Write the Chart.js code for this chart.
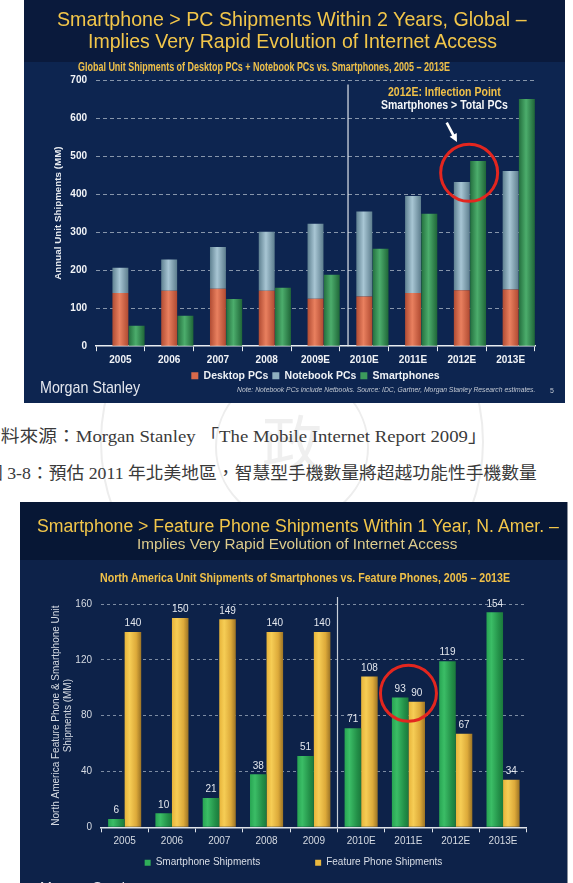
<!DOCTYPE html>
<html><head><meta charset="utf-8">
<title>Smartphone Shipments</title>
<script src="https://cdn.jsdelivr.net/npm/chart.js@4.4.1/dist/chart.umd.min.js"></script>
<style>
html,body{margin:0;padding:0;background:#fff;}
body{width:573px;height:883px;position:relative;overflow:hidden;font-family:"Liberation Sans",Arial,sans-serif;}
.box{position:absolute;}
.t{position:absolute;white-space:nowrap;line-height:1.15;}
.wm{position:absolute;border:2px solid #ededed;border-radius:50%;}
</style></head><body>
<!-- faint watermark -->
<div class="wm" style="left:100px;top:250px;width:380px;height:380px"></div>
<div class="wm" style="left:215px;top:370px;width:150px;height:150px"></div>
<div class="t" style="left:262px;top:405px;font-size:60px;color:#efefef;font-family:'Noto Sans CJK TC'">政</div>

<!-- top panel -->
<div class="box" style="left:24px;top:0;width:541px;height:403px;background:#0d2550"></div>
<div class="box" style="left:24px;top:0;width:541px;height:62px;background:#0a1a3c"></div>
<div class="box" style="left:24px;top:0;width:541px;height:403px"><canvas id="c1" width="541" height="403"></canvas></div>

<div class="t fit" data-x="57" data-w="470" data-y="19" style="font-size:21px;color:#f2c64a">Smartphone &gt; PC Shipments Within 2 Years, Global –</div>
<div class="t fit" data-x="88" data-w="409" data-y="41" style="font-size:21px;color:#f2c64a">Implies Very Rapid Evolution of Internet Access</div>
<div class="t fit" data-x="78" data-w="372" data-y="68" style="font-size:12px;font-weight:bold;color:#f0c048">Global Unit Shipments of Desktop PCs + Notebook PCs vs. Smartphones, 2005 – 2013E</div>
<div class="t fit" data-x="388" data-w="113" data-y="93" style="font-size:12px;font-weight:bold;color:#f0c048">2012E: Inflection Point</div>
<div class="t fit" data-x="381" data-w="127" data-y="106" style="font-size:12px;font-weight:bold;color:#f4f6f8">Smartphones &gt; Total PCs</div>
<div class="t fit" data-x="40" data-w="100" data-y="388" style="font-size:17px;color:#e4e7ee">Morgan Stanley</div>
<div class="t fit" data-x="237" data-w="298" data-y="390" style="font-size:7px;font-style:italic;color:#c3c9d3">Note: Notebook PCs include Netbooks. Source: IDC, Gartner, Morgan Stanley Research estimates.</div>
<div class="t fit" data-x="550" data-y="391" style="font-size:7px;color:#c3c9d3">5</div>

<!-- middle text -->
<div class="t fit" data-x="-18" data-w="505" data-y="437" style="font-size:17px;color:#3a3a3a;font-family:'Liberation Serif','Noto Sans CJK TC',serif">資料來源：Morgan Stanley 「The Mobile Internet Report 2009」</div>
<div class="t fit" data-x="-15" data-w="552" data-y="474" style="font-size:17px;color:#3a3a3a;font-family:'Liberation Serif','Noto Sans CJK TC',serif">圖 3-8：預估 2011 年北美地區，智慧型手機數量將超越功能性手機數量</div>

<!-- bottom panel -->
<div class="box" style="left:20px;top:502px;width:547px;height:381px;background:#0d2249;border-right:1px solid #8a909c"></div>
<div class="box" style="left:20px;top:502px;width:547px;height:58px;background:#071735"></div>
<div class="box" style="left:20px;top:502px;width:547px;height:381px"><canvas id="c2" width="547" height="381"></canvas></div>

<div class="t fit" data-x="37" data-w="522" data-y="526" style="font-size:18px;color:#f2c64a">Smartphone &gt; Feature Phone Shipments Within 1 Year, N. Amer. –</div>
<div class="t fit" data-x="137" data-w="320" data-y="543" style="font-size:15px;color:#dccb8c">Implies Very Rapid Evolution of Internet Access</div>
<div class="t fit" data-x="100" data-w="410" data-y="579" style="font-size:12px;font-weight:bold;color:#f0c048">North America Unit Shipments of Smartphones vs. Feature Phones, 2005 – 2013E</div>
<div class="t fit" data-x="40" data-w="100" data-y="889" style="font-size:17px;color:#e4e7ee">Morgan Stanley</div>

<script>
// ---------- data ----------
const years1 = ['2005','2006','2007','2008','2009E','2010E','2011E','2012E','2013E'];
const desktopPCs = [140,146,151,146,125,131,140,147,149];
const notebookPCs = [66,82,110,155,197,223,255,285,312];
const smartphones = [54,80,124,154,188,256,348,487,650];

const years2 = ['2005','2006','2007','2008','2009','2010E','2011E','2012E','2013E'];
const smartphoneShipments = [6,10,21,38,51,71,93,119,154];
const featurePhoneShipments = [140,150,149,140,140,108,90,67,34];

// ---------- text placement ----------
document.querySelectorAll('.fit').forEach(el=>{
  const w = el.offsetWidth, h = el.offsetHeight;
  el.style.left = el.dataset.x + 'px';
  el.style.top = (+el.dataset.y - h/2) + 'px';
  if (el.dataset.w) {
    el.style.transformOrigin = '0 50%';
    el.style.transform = 'scaleX(' + (+el.dataset.w / w) + ')';
  }
});

Chart.defaults.animation = false;
Chart.defaults.devicePixelRatio = 1;

const SANS = '"Liberation Sans",Arial,sans-serif';

// gradient shading of bars
const gradPlugin = {
  id: 'grad',
  beforeDatasetsDraw(chart) {
    const ctx = chart.ctx;
    chart.data.datasets.forEach((ds, i) => {
      if (!ds.stops) return;
      chart.getDatasetMeta(i).data.forEach(bar => {
        const x = bar.x, w = bar.width;
        const g = ctx.createLinearGradient(x - w/2, 0, x + w/2, 0);
        ds.stops.forEach(s => g.addColorStop(s[0], s[1]));
        bar.options = Object.assign({}, bar.options, {backgroundColor: g});
      });
    });
  }
};

// ---------- chart 1 ----------
const annot1 = {
  id: 'annot1',
  afterDatasetsDraw(chart) {
    const ctx = chart.ctx, xs = chart.scales.x, ys = chart.scales.y;
    const cw = xs.getPixelForValue(1) - xs.getPixelForValue(0);
    // separator between actual and estimates (in the gap before the 2010E pair)
    const sx = (xs.getPixelForValue(4) + xs.getPixelForValue(5)) / 2 + cw / 6;
    ctx.save();
    ctx.strokeStyle = '#dfe4ea'; ctx.lineWidth = 1.2;
    ctx.beginPath(); ctx.moveTo(sx, ys.getPixelForValue(0)); ctx.lineTo(sx, ys.getPixelForValue(688)); ctx.stroke();
    // red circle around 2012E
    const cx = xs.getPixelForValue(7) + cw * 0.15, cy = ys.getPixelForValue(456);
    ctx.strokeStyle = '#e3261f'; ctx.lineWidth = 3;
    ctx.beginPath(); ctx.arc(cx, cy, 28.5, 0, Math.PI*2); ctx.stroke();
    // arrow
    const x0 = xs.getPixelForValue(7) - cw*0.31, y0 = ys.getPixelForValue(588);
    const x1 = xs.getPixelForValue(7) - cw*0.10, y1 = ys.getPixelForValue(537);
    const ang = Math.atan2(y1-y0, x1-x0);
    ctx.strokeStyle = '#ffffff'; ctx.fillStyle = '#ffffff'; ctx.lineWidth = 2.6;
    ctx.beginPath(); ctx.moveTo(x0, y0); ctx.lineTo(x1 - 5*Math.cos(ang), y1 - 5*Math.sin(ang)); ctx.stroke();
    ctx.beginPath();
    ctx.moveTo(x1, y1);
    ctx.lineTo(x1 - 8*Math.cos(ang) + 4*Math.sin(ang), y1 - 8*Math.sin(ang) - 4*Math.cos(ang));
    ctx.lineTo(x1 - 8*Math.cos(ang) - 4*Math.sin(ang), y1 - 8*Math.sin(ang) + 4*Math.cos(ang));
    ctx.closePath(); ctx.fill();
    ctx.restore();
  }
};

new Chart(document.getElementById('c1'), {
  type: 'bar',
  data: {
    labels: years1,
    datasets: [
      // empty spacer stack: the pair of bars sits in the right part of each category
      {label: '', data: years1.map(() => null), stack: 'gap', backgroundColor: 'rgba(0,0,0,0)'},
      {label: 'Desktop PCs', data: desktopPCs, stack: 'pc', backgroundColor: '#d9694a',
       stops: [[0,'#b14c33'],[0.45,'#e9805f'],[1,'#b04a31']]},
      {label: 'Notebook PCs', data: notebookPCs, stack: 'pc', backgroundColor: '#8fb0bf',
       stops: [[0,'#5f8191'],[0.45,'#a8c6d4'],[1,'#5d7e8e']]},
      {label: 'Smartphones', data: smartphones, stack: 'sp', backgroundColor: '#3c9a5c',
       stops: [[0,'#236f3e'],[0.45,'#4cad6c'],[1,'#1f6638']]}
    ]
  },
  options: {
    responsive: false,
    categoryPercentage: 1.0,
    barPercentage: 0.98,
    layout: {padding: {top: 80, right: 30, bottom: 12, left: 0}},
    plugins: {
      tooltip: {enabled: false},
      legend: {
        position: 'bottom', fullSize: false,
        labels: {boxWidth: 7, boxHeight: 7, padding: 4, color: '#eef1f5',
                 filter: item => item.text !== '',
                 font: {family: SANS, size: 10.5, weight: 'bold'}}
      }
    },
    scales: {
      x: {
        stacked: true,
        afterFit(s) { s.height = 20.3; },
        border: {display: true, color: '#e8ecf0', width: 1.5},
        grid: {display: true, drawOnChartArea: false, drawTicks: true, tickLength: 5, color: '#e8ecf0', offset: true},
        ticks: {color: '#f2f4f7', padding: 3.5, font: {family: SANS, size: 10, weight: 'bold'}}
      },
      y: {
        stacked: true, min: 0, max: 700,
        afterFit(s) { s.width = 72; },
        grid: {drawTicks: false, color: c => c.tick.value === 0 ? 'rgba(0,0,0,0)' : '#8796ab', lineWidth: 1},
        border: {display: false, dash: [4, 3]},
        ticks: {stepSize: 100, padding: 9, color: '#f2f4f7', font: {family: SANS, size: 10, weight: 'bold'}},
        title: {display: true, text: 'Annual Unit Shipments (MM)', color: '#e6eaef',
                padding: {top: 28, bottom: 0}, font: {family: SANS, size: 9.8, weight: 'bold'}}
      }
    }
  },
  plugins: [gradPlugin, annot1]
});

// ---------- chart 2 ----------
const annot2 = {
  id: 'annot2',
  beforeDatasetsDraw(chart) {
    const ctx = chart.ctx, xs = chart.scales.x, ys = chart.scales.y;
    const sx = (xs.getPixelForValue(4) + xs.getPixelForValue(5)) / 2;
    ctx.save();
    ctx.strokeStyle = '#c9d0da'; ctx.lineWidth = 1.2;
    ctx.beginPath(); ctx.moveTo(sx, ys.getPixelForValue(0)); ctx.lineTo(sx, ys.getPixelForValue(165)); ctx.stroke();
    ctx.restore();
  },
  afterDatasetsDraw(chart) {
    const ctx = chart.ctx, xs = chart.scales.x, ys = chart.scales.y;
    ctx.save();
    // value labels
    ctx.fillStyle = '#e3e7ee'; ctx.font = '10px ' + SANS;
    ctx.textAlign = 'center'; ctx.textBaseline = 'middle';
    chart.data.datasets.forEach((ds, i) => {
      chart.getDatasetMeta(i).data.forEach((bar, j) => {
        ctx.fillText(String(ds.data[j]), bar.x, bar.y - 8.5);
      });
    });
    // red circle around 2011E
    ctx.strokeStyle = '#e3261f'; ctx.lineWidth = 3;
    ctx.beginPath(); ctx.arc(xs.getPixelForValue(6), ys.getPixelForValue(96), 28, 0, Math.PI*2); ctx.stroke();
    ctx.restore();
  }
};

new Chart(document.getElementById('c2'), {
  type: 'bar',
  data: {
    labels: years2,
    datasets: [
      {label: 'Smartphone Shipments\u2003\u2003\u2003\u2003\u2002', data: smartphoneShipments, backgroundColor: '#2fae59',
       stops: [[0,'#27a552'],[0.3,'#3bbd66'],[0.75,'#239048'],[1,'#1b7a3c']]},
      {label: 'Feature Phone Shipments', data: featurePhoneShipments, backgroundColor: '#e9b83f',
       stops: [[0,'#e7b43a'],[0.3,'#f6cd55'],[0.7,'#ddaa3a'],[1,'#9c7425']]}
    ]
  },
  options: {
    responsive: false,
    categoryPercentage: 0.70,
    barPercentage: 1.0,
    layout: {padding: {top: 102, right: 0, bottom: 5.3, left: 0}},
    plugins: {
      tooltip: {enabled: false},
      legend: {
        position: 'bottom', fullSize: true,
        labels: {boxWidth: 6, boxHeight: 6, padding: 10, color: '#d8dde6',
                 font: {family: SANS, size: 10}}
      }
    },
    scales: {
      x: {
        afterFit(s) { s.height = 20.4; },
        border: {display: true, color: '#dfe3ea', width: 1.5},
        grid: {display: true, drawOnChartArea: false, drawTicks: true, tickLength: 5, color: '#dfe3ea', offset: true},
        ticks: {color: '#d6dbe3', padding: 3, font: {family: SANS, size: 10}}
      },
      y: {
        min: 0, max: 160,
        afterFit(s) { s.width = 81; },
        grid: {drawTicks: false, color: c => c.tick.value === 0 ? 'rgba(0,0,0,0)' : '#7d8ca3', lineWidth: 1},
        border: {display: false, dash: [3, 3]},
        ticks: {stepSize: 40, padding: 9, color: '#d6dbe3', font: {family: SANS, size: 10}},
        title: {display: true, text: ['North America Feature Phone & Smartphone Unit', 'Shipments (MM)'],
                color: '#d6dbe3', padding: {top: 30, bottom: 0}, font: {family: SANS, size: 10}}
      },
      yR: {
        position: 'right', display: true,
        afterFit(s) { s.width = 40.3; },
        grid: {display: false}, border: {display: false}, ticks: {display: false}
      }
    }
  },
  plugins: [gradPlugin, annot2]
});
</script>
</body></html>
